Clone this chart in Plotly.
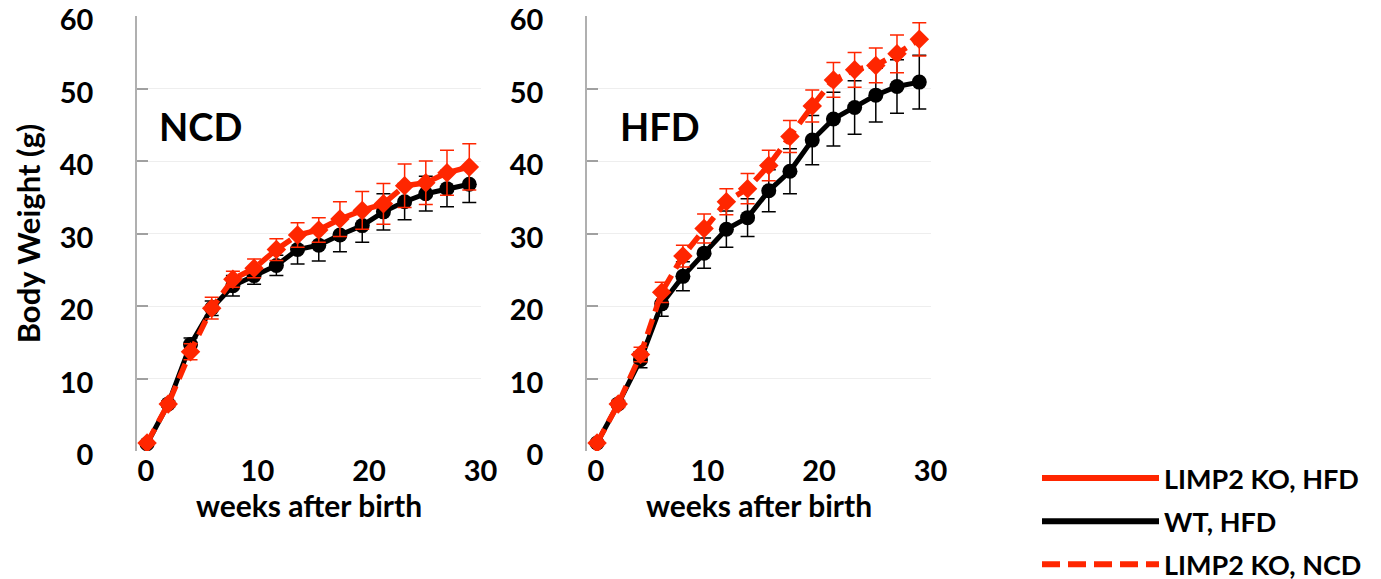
import plotly.graph_objects as go

weeks = [0.1, 2.0, 4.0, 5.9, 7.8, 9.7, 11.7, 13.6, 15.5, 17.4, 19.4, 21.3, 23.2, 25.1, 27.0, 29.0]

ncd_wt = [1.0, 6.5, 14.7, 19.7, 22.8, 24.2, 25.6, 27.8, 28.4, 29.8, 31.1, 33.0, 34.4, 35.5, 36.2, 36.8]
ncd_wt_err = [0.3, 0.4, 0.9, 1.0, 1.4, 1.2, 1.4, 2.0, 2.2, 2.3, 2.3, 2.5, 2.5, 2.4, 2.5, 2.5]
ncd_ko = [1.1, 6.5, 13.7, 19.7, 23.7, 25.2, 27.8, 29.8, 30.5, 32.0, 33.2, 34.1, 36.6, 37.0, 38.4, 39.2]
ncd_ko_err = [0.3, 0.4, 1.1, 1.5, 1.1, 1.3, 1.5, 1.7, 1.7, 2.4, 2.6, 2.8, 3.0, 3.0, 3.1, 3.2]

hfd_wt = [1.1, 6.5, 12.6, 20.3, 24.1, 27.3, 30.6, 32.2, 35.9, 38.6, 42.9, 45.8, 47.4, 49.1, 50.3, 50.9]
hfd_wt_err = [0.3, 0.4, 1.1, 1.7, 2.0, 2.1, 2.5, 2.6, 2.9, 3.1, 3.4, 3.7, 3.7, 3.7, 3.7, 3.7]
hfd_ko = [1.1, 6.5, 13.3, 21.9, 26.9, 30.7, 34.4, 36.2, 39.4, 43.4, 47.6, 51.2, 52.6, 53.2, 54.8, 56.8]
hfd_ko_err = [0.3, 0.5, 1.0, 1.4, 1.5, 2.0, 1.8, 2.1, 2.1, 2.2, 2.2, 2.4, 2.4, 2.4, 2.6, 2.3]

legend_names = ["LIMP2 KO, HFD", "WT, HFD", "LIMP2 KO, NCD"]
panel_titles = ["NCD", "HFD"]
y_ticks = [0, 10, 20, 30, 40, 50, 60]
x_ticks = [0, 10, 20, 30]

RED = "#ff2600"
BLACK = "#000000"
FONT = "Lato"

# the page body has an 8px default margin; lay out in the remaining area
OFF = 8
W, H = 1381 - OFF, 579 - OFF

def fx(p):
    return (p - OFF) / W

def fy(p):
    return 1 - (p - OFF) / H

fig = go.Figure()

def add_panel(xa, ya, wt, wt_err, ko, ko_err):
    fig.add_trace(go.Scatter(
        x=weeks, y=wt, xaxis=xa, yaxis=ya, mode="lines+markers", showlegend=False,
        line=dict(color=BLACK, width=5),
        marker=dict(symbol="circle", size=15, color=BLACK),
        error_y=dict(type="data", array=wt_err, visible=True, color=BLACK, thickness=1.5, width=7),
    ))
    fig.add_trace(go.Scatter(
        x=weeks, y=ko, xaxis=xa, yaxis=ya, mode="lines+markers", showlegend=False,
        line=dict(color=RED, width=5.5, dash="16px,8px"),
        marker=dict(symbol="diamond", size=15, color=RED),
        error_y=dict(type="data", array=ko_err, visible=True, color=RED, thickness=1.5, width=7),
    ))

add_panel("x", "y", ncd_wt, ncd_wt_err, ncd_ko, ncd_ko_err)
add_panel("x2", "y2", hfd_wt, hfd_wt_err, hfd_ko, hfd_ko_err)

# legend entries
leg_styles = [dict(color=RED, width=6), dict(color=BLACK, width=6), dict(color=RED, width=6, dash="18px,8px")]
for i, (name, st) in enumerate(zip(legend_names, leg_styles)):
    fig.add_trace(go.Scatter(
        x=[None], y=[None], mode="lines", name=name, line=st,
        legendgroup=f"g{i}", xaxis="x2", yaxis="y2",
    ))

tickfont = dict(family=FONT, size=29, color="black", weight="bold")

x_common = dict(range=[-0.8, 30.05], tickvals=x_ticks, showgrid=False, zeroline=False,
                showline=False, ticks="", tickfont=tickfont, ticklabelstandoff=0,
                ticklabeloverflow="allow",
                title=dict(text="weeks after birth",
                           font=dict(family=FONT, size=30, color="black", weight="bold"), standoff=5))
y_common = dict(range=[0, 60.02], tickvals=y_ticks, showgrid=True, gridcolor="#eeeeee", gridwidth=1,
                zeroline=False, showline=True, linecolor="#b0b0b0", linewidth=1.5,
                ticks="inside", ticklen=11, tickcolor="#a0a0a0", tickwidth=1.5,
                tickfont=tickfont, ticklabelstandoff=36, ticklabelshift=4,
                ticklabeloverflow="allow")

fig.update_layout(
    width=W, height=H,
    margin=dict(l=0, r=0, t=0, b=0, autoexpand=False),
    paper_bgcolor="white", plot_bgcolor="white",
    font=dict(family=FONT, color="black"),
    xaxis=dict(domain=[fx(137), fx(481)], anchor="y", **x_common),
    yaxis=dict(domain=[fy(451), fy(16)], anchor="x",
               title=dict(text="Body Weight (g)",
                          font=dict(family=FONT, size=31, color="black", weight="bold"), standoff=10),
               **y_common),
    xaxis2=dict(domain=[fx(587), fx(931)], anchor="y2", **x_common),
    yaxis2=dict(domain=[fy(451), fy(16)], anchor="x2", **y_common),
    showlegend=True,
    legend=dict(xref="container", yref="container", x=fx(1037), y=fy(454),
                xanchor="left", yanchor="top",
                font=dict(family=FONT, size=27, color="black", weight="bold"),
                itemwidth=117, tracegroupgap=5, bgcolor="rgba(0,0,0,0)"),
    annotations=[
        dict(text=panel_titles[0], x=1.0, y=44.8, xref="x", yref="y", xanchor="left", yanchor="middle",
             showarrow=False, font=dict(family=FONT, size=38, color="black", weight="bold")),
        dict(text=panel_titles[1], x=2.0, y=44.8, xref="x2", yref="y2", xanchor="left", yanchor="middle",
             showarrow=False, font=dict(family=FONT, size=38, color="black", weight="bold")),
    ],
)

fig.write_html("out.html")
